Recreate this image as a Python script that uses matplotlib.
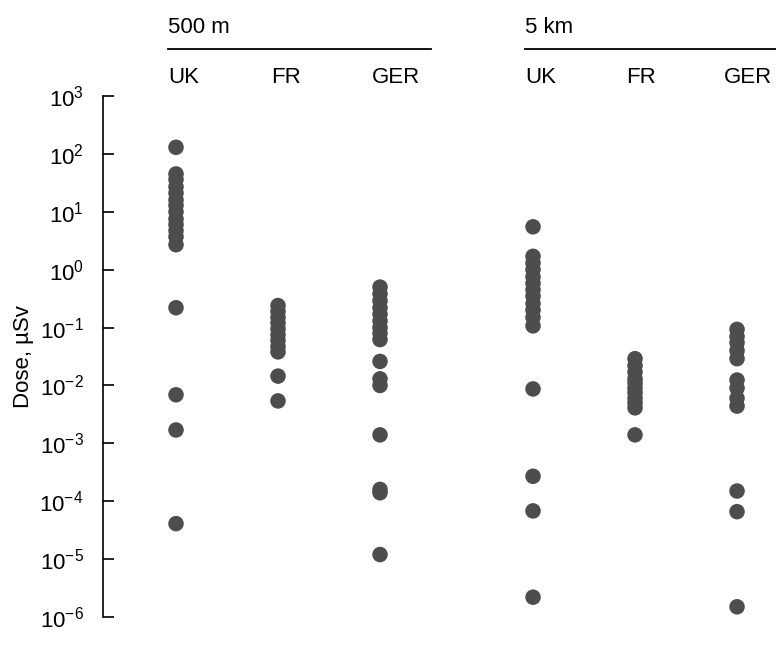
import matplotlib
matplotlib.use("Agg")
import matplotlib.pyplot as plt
import matplotlib.transforms as mtransforms
from matplotlib.ticker import LogLocator, NullLocator

plt.rcParams['font.family'] = ['Liberation Sans', 'DejaVu Sans']
plt.rcParams['mathtext.fontset'] = 'custom'
plt.rcParams['mathtext.rm'] = 'Liberation Sans'
plt.rcParams['mathtext.it'] = 'Liberation Sans:italic'
plt.rcParams['mathtext.bf'] = 'Liberation Sans:bold'

# data (dose in uSv)
groups = ["500 m", "5 km"]
countries = ["UK", "FR", "GER"]

uk_500m = [130, 45, 36, 27, 21, 16, 13, 10, 7.5, 6, 4.7, 3.7, 2.7,
           0.22, 0.0069, 0.0017, 4.1e-5]
fr_500m = [0.24, 0.19, 0.15, 0.12, 0.095, 0.075, 0.06, 0.047, 0.038,
           0.0145, 0.0054]
ger_500m = [0.5, 0.38, 0.29, 0.22, 0.17, 0.13, 0.1, 0.08, 0.062,
            0.026, 0.013, 0.010, 0.0014, 1.6e-4, 1.4e-4, 1.2e-5]
uk_5km = [5.5, 1.7, 1.3, 1.0, 0.75, 0.58, 0.45, 0.35, 0.26, 0.2, 0.15,
          0.107, 0.0087, 2.7e-4, 6.8e-5, 2.2e-6]
fr_5km = [0.029, 0.022, 0.017, 0.013, 0.011, 0.009, 0.0075, 0.006,
          0.005, 0.0041, 0.0014]
ger_5km = [0.093, 0.07, 0.055, 0.04, 0.029, 0.0124, 0.009, 0.006,
           0.0044, 1.5e-4, 6.6e-5, 1.5e-6]

series = [uk_500m, fr_500m, ger_500m, uk_5km, fr_5km, ger_5km]
xpos = [0, 1, 2, 3.5, 4.5, 5.5]

fig = plt.figure(figsize=(7.76, 6.48), dpi=100)
ax = fig.add_axes([103 / 776, 31 / 648, 673 / 776, 521 / 648])

dot_color = "#4d4d4d"
for x, vals in zip(xpos, series):
    ax.scatter([x] * len(vals), vals, s=125, color=dot_color,
               edgecolors="none", zorder=3)

ax.set_yscale("log")
ax.set_ylim(1e-6, 1e3)
ax.set_xlim(-0.7157, 5.882)
ax.yaxis.set_major_locator(LogLocator(base=10, numticks=20))
ax.yaxis.set_minor_locator(NullLocator())
ax.set_xticks([])

for side in ["top", "right", "bottom"]:
    ax.spines[side].set_visible(False)
ax.spines["left"].set_linewidth(1.2)
ax.tick_params(axis="y", direction="in", length=8, width=1.2,
               labelsize=16, pad=14)
ax.set_ylabel("Dose, µSv", fontsize=16, labelpad=4)

# header: group labels, lines and country labels
trans = mtransforms.blended_transform_factory(ax.transData, ax.transAxes)
unit = 1 / 102  # one pixel in data units along x
group_starts = [xpos[0] - 8 * unit, xpos[3] - 8 * unit]
group_ends = [2.5, 5.9]
for name, x0, x1 in zip(groups, group_starts, group_ends):
    ax.text(x0, 1.132, name, transform=trans, fontsize=16,
            ha="left", va="center", clip_on=False)
    ax.plot([x0, x1], [1.09, 1.09], transform=trans, color="black",
            lw=1.3, clip_on=False)

label_shift = [8, 7, 8, 8, 9, 13]
for i, x in enumerate(xpos):
    ax.text(x - label_shift[i] * unit, 1.035, countries[i % 3],
            transform=trans, fontsize=16, ha="left", va="center",
            clip_on=False)

fig.savefig("out.png", dpi=100)
